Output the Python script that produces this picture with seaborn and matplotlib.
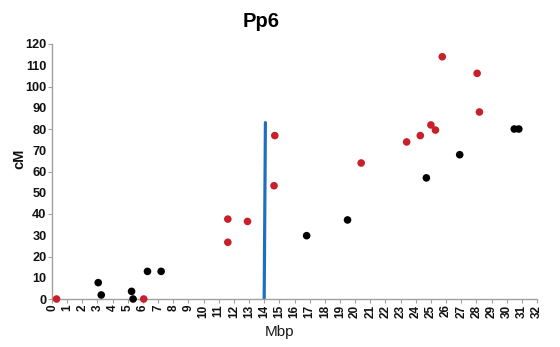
import matplotlib
matplotlib.use("Agg")
import matplotlib.pyplot as plt
from matplotlib.ticker import FixedLocator
import seaborn as sns
import pandas as pd

# Markers: physical position (Mbp) vs genetic position (cM)
red_mbp = [0.3, 6.05, 11.6, 11.6, 12.9, 14.65, 14.7, 20.4, 23.4, 24.3, 25.0, 25.3, 25.75, 28.05, 28.2]
red_cm = [0, 0, 26.7, 37.6, 36.5, 53.3, 76.9, 64.0, 73.9, 76.9, 81.9, 79.5, 114.0, 106.2, 88.0]
black_mbp = [3.05, 3.25, 5.25, 5.35, 6.3, 7.2, 16.8, 19.5, 24.7, 26.9, 30.5, 30.8]
black_cm = [7.7, 1.9, 3.6, 0, 13.0, 13.0, 29.8, 37.2, 57.0, 67.9, 80.0, 80.0]

# Centromere marker line
centro_mbp = [14.0, 14.08]
centro_cm = [0, 83.0]

x_ticks = list(range(0, 33))
y_ticks = list(range(0, 121, 10))

df = pd.DataFrame({
    "Mbp": red_mbp + black_mbp,
    "cM": red_cm + black_cm,
    "group": ["red"] * len(red_mbp) + ["black"] * len(black_mbp),
})
line_df = pd.DataFrame({"Mbp": centro_mbp, "cM": centro_cm})

sns.set_style("white")
plt.rcParams["font.family"] = ["Liberation Sans", "DejaVu Sans"]

fig = plt.figure(figsize=(5.6, 3.47), dpi=100)
ax = fig.add_axes([52 / 560, 1 - 299 / 347, (537 - 52) / 560, (299 - 44) / 347])

sns.lineplot(data=line_df, x="Mbp", y="cM", estimator=None, sort=False,
             color="#1f6fbf", linewidth=2.3, ax=ax, zorder=2)
sns.scatterplot(data=df, x="Mbp", y="cM", hue="group",
                palette={"red": "#c8202a", "black": "#000000"},
                s=30, linewidth=0, legend=False, ax=ax, zorder=3, clip_on=False)

ax.set_xlim(0, 32)
ax.set_ylim(0, 120)

ax.xaxis.set_major_locator(FixedLocator(x_ticks))
ax.set_xticklabels([str(v) for v in x_ticks], rotation=90, fontweight="bold",
                   fontsize=8.5, color="#111111")

ax.yaxis.set_major_locator(FixedLocator([v for v in y_ticks if v % 20 == 0]))
ax.yaxis.set_minor_locator(FixedLocator([v for v in y_ticks if v % 20 != 0]))
ax.set_yticklabels([str(v) for v in y_ticks if v % 20 == 0],
                   fontweight="bold", fontsize=9.2, color="#111111")
ax.set_yticklabels([str(v) for v in y_ticks if v % 20 != 0], minor=True,
                   fontweight="bold", fontsize=9.2, color="#111111")

ax.tick_params(axis="x", which="major", length=3, width=0.8, color="#a0a0a0",
               pad=1, bottom=True)
ax.tick_params(axis="y", which="major", length=3, width=0.8, color="#a0a0a0",
               pad=1, left=True)
ax.tick_params(axis="y", which="minor", length=0, pad=4, left=True)

for side in ("top", "right"):
    ax.spines[side].set_visible(False)
for side in ("left", "bottom"):
    ax.spines[side].set_color("#a0a0a0")
    ax.spines[side].set_linewidth(1.0)

ax.set_xlabel("Mbp", fontsize=11, color="#1a1a1a")
ax.xaxis.set_label_coords((280 - 52) / 485, (299 - 325) / 255)
ax.set_ylabel("cM", fontsize=10.5, fontweight="bold", color="#111111")
ax.yaxis.set_label_coords((26 - 52) / 485, (299 - 159) / 255)

fig.text(261 / 560, 1 - 27 / 347, "Pp6", ha="center", va="baseline",
         fontsize=14.5, fontweight="bold", color="#000000")

fig.savefig("out.png", dpi=100, facecolor="white")
